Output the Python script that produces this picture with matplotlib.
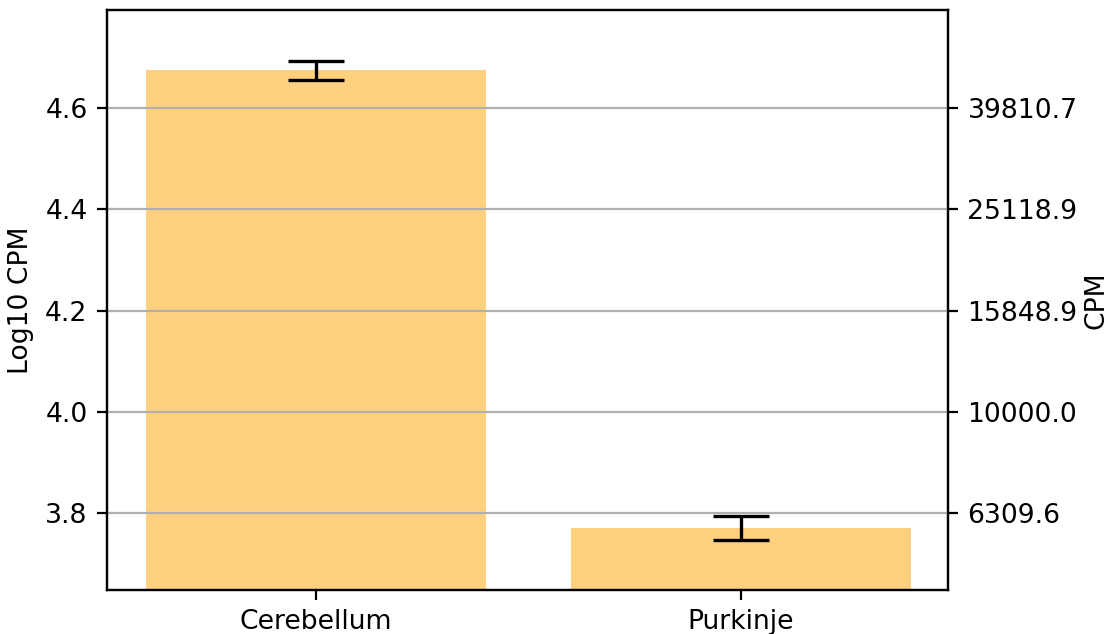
import numpy as np
import matplotlib
matplotlib.use('Agg')
import matplotlib.pyplot as plt

categories = ['Cerebellum', 'Purkinje']
log_cpm = [4.675, 3.770]
log_err = [0.019, 0.024]
right_ticks = [3.8, 4.0, 4.2, 4.4, 4.6]

plt.rcParams['font.size'] = 9.6

fig, ax = plt.subplots(figsize=(5.565, 3.17), dpi=200)
x = np.arange(len(categories))
ax.bar(x, log_cpm, width=0.8, color='orange', alpha=0.5, yerr=log_err,
       capsize=10, error_kw={'elinewidth': 1.2, 'capthick': 1.2})
ax.set_xticks(x)
ax.set_xticklabels(categories)
ax.set_xlim(-0.492, 1.487)
ax.set_ylim(3.648, 4.794)
ax.set_yticks(right_ticks)
ax.set_ylabel('Log10 CPM')

ax2 = ax.twinx()
ax2.set_ylim(ax.get_ylim())
ax2.set_yticks(right_ticks)
ax2.set_yticklabels(['%.1f' % (10 ** v) for v in right_ticks])
ax2.set_ylabel('CPM', labelpad=2)
ax2.grid(axis='y')

fig.subplots_adjust(left=107 / 1113, right=948 / 1113, top=1 - 10 / 634, bottom=1 - 590 / 634)
fig.savefig('out.png', dpi=200)
